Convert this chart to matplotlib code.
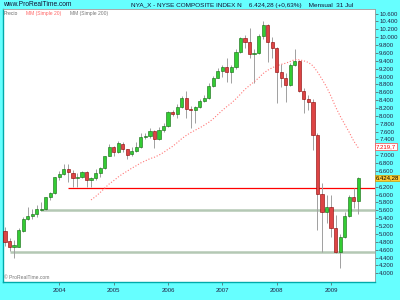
"""NYSE Composite mensual - velas con MM20"""
import numpy as np
import pandas as pd
import matplotlib
matplotlib.use('Agg')
import matplotlib.pyplot as plt
import matplotlib.transforms as mtransforms

plt.rcParams['font.family'] = ['Liberation Sans', 'DejaVu Sans']

# Datos mensuales (ene 2003 - jul 2009)
opens = [5075, 4822, 4670, 4677, 5083, 5388, 5455, 5515, 5620, 5627, 5932, 6033,
         6440, 6523, 6658, 6556, 6414, 6450, 6574, 6371, 6414, 6541, 6668, 6988,
         7217, 7075, 7285, 7150, 7024, 7108, 7201, 7456, 7480, 7608, 7412, 7634,
         7743, 8090, 8040, 8218, 8454, 8182, 8141, 8225, 8385, 8454, 8766, 8970,
         9140, 9249, 9106, 9249, 9626, 9970, 9884, 9564, 9604, 10036, 10308, 9868,
         9732, 9122, 8954, 8784, 9292, 9394, 8639, 8428, 8360, 7514, 6015, 5566,
         5693, 5144, 4550, 4931, 5456, 5947, 5845]
highs = [5185, 4890, 4847, 5144, 5439, 5693, 5640, 5736, 5820, 5950, 6070, 6440,
         6600, 6770, 6770, 6620, 6560, 6610, 6590, 6450, 6640, 6700, 6990, 7290,
         7240, 7360, 7330, 7170, 7217, 7344, 7557, 7560, 7684, 7640, 7725, 7811,
         8124, 8150, 8300, 8500, 8632, 8250, 8260, 8420, 8530, 8827, 9010, 9208,
         9300, 9462, 9300, 9700, 10000, 10054, 10239, 9700, 10080, 10410, 10330, 10000,
         9760, 9330, 9100, 9350, 9690, 9420, 8700, 8530, 8440, 7560, 6303, 5990,
         5990, 5482, 5000, 5566, 5990, 6160, 6440]
lows = [4694, 4575, 4382, 4660, 5060, 5355, 5380, 5430, 5591, 5610, 5860, 6020,
        6380, 6500, 6328, 6201, 6201, 6420, 6201, 6201, 6380, 6440, 6650, 6980,
        6980, 7060, 7080, 6900, 6980, 7090, 7176, 7400, 7440, 7190, 7387, 7600,
        7720, 8000, 7950, 8200, 7938, 7684, 7811, 8200, 8360, 8440, 8740, 8950,
        8990, 8860, 8827, 9200, 9600, 9716, 9462, 8827, 9580, 9950, 9376, 9462,
        8319, 8741, 8344, 8750, 9270, 8600, 8065, 8149, 7133, 5101, 4550, 5271,
        4931, 4520, 4128, 4900, 5420, 5652, 5507]
closes = [4804, 4670, 4720, 5100, 5388, 5455, 5515, 5627, 5632, 5932, 6033, 6440,
          6523, 6658, 6567, 6414, 6450, 6574, 6371, 6414, 6541, 6668, 6988, 7217,
          7075, 7303, 7150, 7006, 7108, 7201, 7456, 7480, 7608, 7412, 7634, 7743,
          8090, 8040, 8218, 8454, 8174, 8149, 8225, 8385, 8454, 8766, 8970, 9140,
          9249, 9106, 9249, 9614, 9970, 9884, 9564, 9604, 10036, 10308, 9868, 9732,
          9122, 8954, 8784, 9292, 9394, 8639, 8428, 8360, 7514, 6015, 5566, 5693,
          5144, 4550, 4931, 5456, 5947, 5845, 6424.28]

years = ['2004', '2005', '2006', '2007', '2008', '2009']
year_start_idx = [12, 24, 36, 48, 60, 72]

# soportes / resistencias (nivel, mes de inicio)
support_levels = [4550, 5620]
support_start = [1, 8]
resist_level = 6180
resist_start = 14

last_price = 6424.28
ma_last_label = 7219.7


def fmt_es(v, dec):
    s = f"{v:,.{dec}f}"
    return s.replace(',', 'X').replace('.', ',').replace('X', '.')


cyan = '#66FFFF'
fig = plt.figure(figsize=(4, 3), dpi=100, facecolor=cyan)
ax = fig.add_axes([3 / 400, 1 - 282 / 300, 372 / 400, 273 / 300])
ax.set_facecolor('white')

x = np.arange(len(closes))
o = np.array(opens, dtype=float)
c = np.array(closes, dtype=float)
h = np.array(highs, dtype=float)
l = np.array(lows, dtype=float)
up = c >= o

# lineas horizontales
for lvl, st in zip(support_levels, support_start):
    ax.hlines(lvl, st, 90, color='#B4C8B4', lw=1.8, zorder=1)
ax.hlines(resist_level, resist_start, 90, color='#FF0000', lw=0.9, zorder=1)

# mechas y cuerpos
ax.vlines(x, l, h, color='#A0A0A0', lw=0.7, zorder=2)
body = np.maximum(np.abs(c - o), 12)
ax.bar(x, body, bottom=np.minimum(o, c), width=0.7,
       color=np.where(up, '#33CC33', '#DD4444'),
       edgecolor=np.where(up, '#116611', '#880000'), linewidth=0.4, zorder=3)

# media movil 20
ma20 = pd.Series(c).rolling(20).mean()
ax.plot(x, ma20, ':', color='#FF7777', lw=0.8, zorder=2)

ax.set_xlim(-0.44, 81.7)
ax.set_ylim(3780, 10715)

# eje Y a la derecha (las etiquetas tapadas por las cajas se dejan vacias)
yt = np.arange(4000, 10601, 200)
hidden = {7200, 6400}
ax.yaxis.tick_right()
ax.set_yticks(yt)
ax.set_yticklabels(['' if v in hidden else fmt_es(v, 0) for v in yt])
ax.tick_params(axis='y', length=2, width=0.5, pad=1, labelsize=4.3,
               colors='#555555', labelcolor='#222244')
ax.set_xticks(year_start_idx)
ax.set_xticklabels(years)
ax.tick_params(axis='x', length=2, width=0.5, pad=2, labelsize=4.3,
               colors='#555555', labelcolor='#222244')

for side in ['left', 'bottom']:
    ax.spines[side].set_color('#00AAAA')
    ax.spines[side].set_linewidth(1)
for side in ['right', 'top']:
    ax.spines[side].set_color('#999999')
    ax.spines[side].set_linewidth(0.6)

# etiquetas de precio a la derecha
tr = mtransforms.blended_transform_factory(ax.transAxes, ax.transData)
ax.text(1.003, ma_last_label, fmt_es(ma_last_label, 1),
        transform=tr, fontsize=4.3, color='#FF0000', va='center', ha='left',
        bbox=dict(boxstyle='square,pad=0.15', fc='white', ec='#FF4444', lw=0.5), clip_on=False)
ax.text(1.003, last_price, fmt_es(last_price, 2),
        transform=tr, fontsize=4.3, color='#000000', va='center', ha='left',
        bbox=dict(boxstyle='square,pad=0.15', fc='#FFCC33', ec='#CC9900', lw=0.5), clip_on=False)

# cabecera
fig.text(3 / 400, 1 - 5 / 300, 'www.ProRealTime.com', fontsize=4.8, color='#111133', va='center')
fig.text(131 / 400, 1 - 5 / 300,
         'NYA_X - NYSE COMPOSITE INDEX N    6.424,28 (+0,63%)    Mensual  31 Jul',
         fontsize=4.6, color='#111133', va='center')

# leyenda
ax.text(0.002, 0.984, 'Precio', transform=ax.transAxes, fontsize=3.6, color='#666666', va='center')
ax.text(0.062, 0.984, 'MM (Simple 20)', transform=ax.transAxes, fontsize=3.6, color='#FF6666', va='center')
ax.text(0.180, 0.984, 'MM (Simple 200)', transform=ax.transAxes, fontsize=3.6, color='#777777', va='center')

ax.text(0.002, 0.018, '© ProRealTime.com', transform=ax.transAxes, fontsize=3.6, color='#777777', va='center')

fig.savefig('out.png', dpi=100, facecolor=cyan)
